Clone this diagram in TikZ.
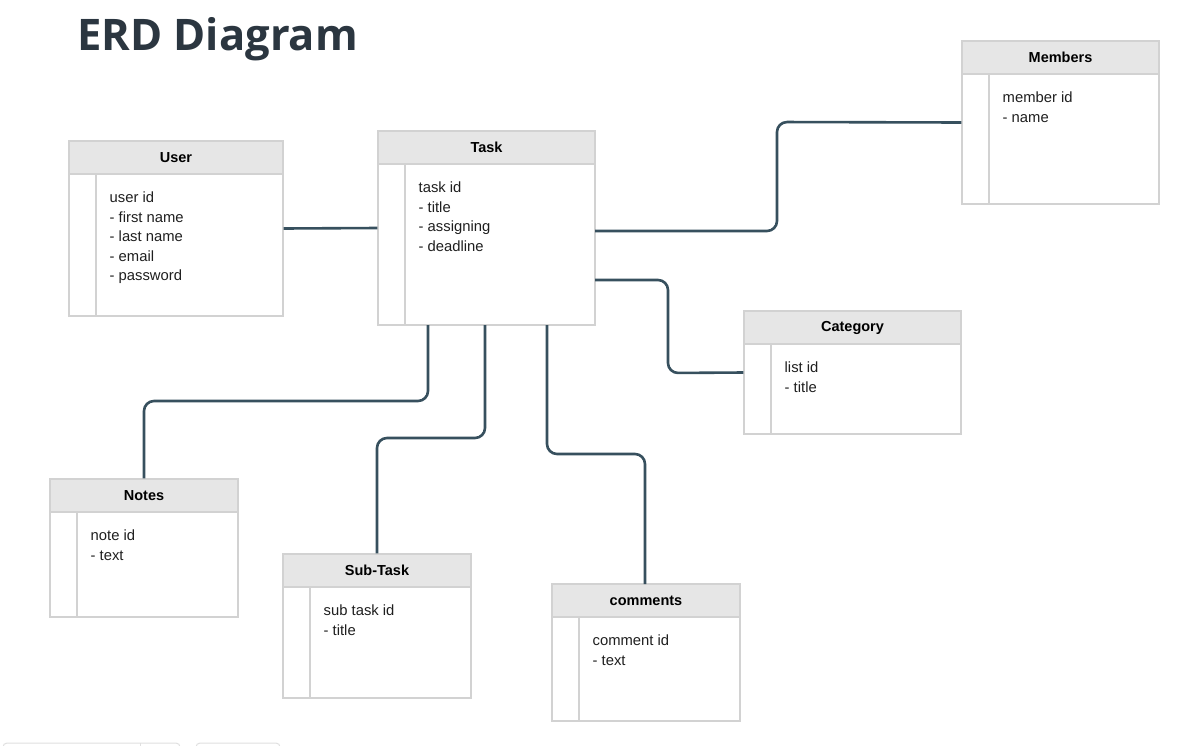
\documentclass[tikz,border=0pt]{standalone}
\usepackage{fontspec}
\setmainfont{Liberation Sans}
\newfontfamily\titlefont{Open Sans}
\usetikzlibrary{fit}
\definecolor{conncol}{HTML}{37505E}
\definecolor{bordcol}{HTML}{D2D2D2}
\definecolor{hdrcol}{HTML}{E6E6E6}
\definecolor{ttlcol}{HTML}{2B3640}
\tikzset{
  ebox/.style={draw=bordcol, line width=1.1pt, inner sep=0pt},
  sep/.style={draw=bordcol, line width=1.1pt},
  hdrtext/.style={font=\fontsize{14.5}{17}\selectfont\bfseries, text=black, inner sep=0pt},
  bodytext/.style={font=\fontsize{14.8}{19.6}\selectfont, text=black!88, inner sep=0pt, align=left},
  conn/.style={draw=conncol, line width=2.6pt, rounded corners=10pt},
  ghost/.style={draw=black!12, line width=1pt, rounded corners=4pt}
}
\newcommand\erdent[7]{%
  \coordinate (#1-nw) at (#2,#3);
  \coordinate (#1-se) at (#4,#5);
  \fill[hdrcol] (#2,#3) rectangle (#4,{#3+33});
  \node[ebox, fit=(#1-nw)(#1-se)] (#1) {};
  \draw[sep] (#2,{#3+33}) -- (#4,{#3+33});
  \draw[sep] ({#2+27},{#3+33}) -- ({#2+27},#5);
  \node[hdrtext] (#1-title) at ({(#2+#4)/2},{#3+16.5}) {#6};
  \node[bodytext, anchor=north west] (#1-body) at ({#2+40.5},{#3+50.5}) {#7};
}
\begin{document}
\begin{tikzpicture}[x=1pt,y=-1pt]
\useasboundingbox[fill=white] (0,0) rectangle (1189,745);
\node[anchor=base west, inner sep=0pt, text=ttlcol, font=\titlefont\fontsize{43.5}{50}\selectfont\bfseries] (title) at (77,50) {ERD Diagram};

\erdent{user}{69}{141}{283}{316}{User}{user id\\- first name\\- last name\\- email\\- password}
\erdent{task}{378}{131}{595}{325}{Task}{task id\\- title\\- assigning\\- deadline}
\erdent{members}{962}{41}{1159}{204}{Members}{member id\\- name}
\erdent{category}{744}{311}{961}{434}{Category}{list id\\- title}
\erdent{notes}{50}{479}{238}{617}{Notes}{note id\\- text}
\erdent{subtask}{283}{554}{471}{698}{Sub-Task}{sub task id\\- title}
\erdent{comments}{552}{584}{740}{721}{comments}{comment id\\- text}

\coordinate (tm) at (595,231);
\coordinate (tc) at (595,280);
\coordinate (tn) at (428,325);
\coordinate (ts) at (485,325);
\coordinate (tco) at (547,325);

\draw[conn] (user.east) -- (task.west);
\draw[conn] (tm) -| (777,122) -- (members.west);
\draw[conn] (tc) -| (668,373) -- (category.west);
\draw[conn] (tn) |- (144,401) -- (notes.north);
\draw[conn] (ts) |- (377,438) -- (subtask.north);
\draw[conn] (tco) |- (645,454) -- (645,584);

\draw[ghost] (3,752) -- (3,743) -- (180,743) -- (180,752);
\draw[black!12, line width=1pt] (140,743) -- (140,752);
\draw[ghost] (196,752) -- (196,743) -- (280,743) -- (280,752);
\end{tikzpicture}
\end{document}
